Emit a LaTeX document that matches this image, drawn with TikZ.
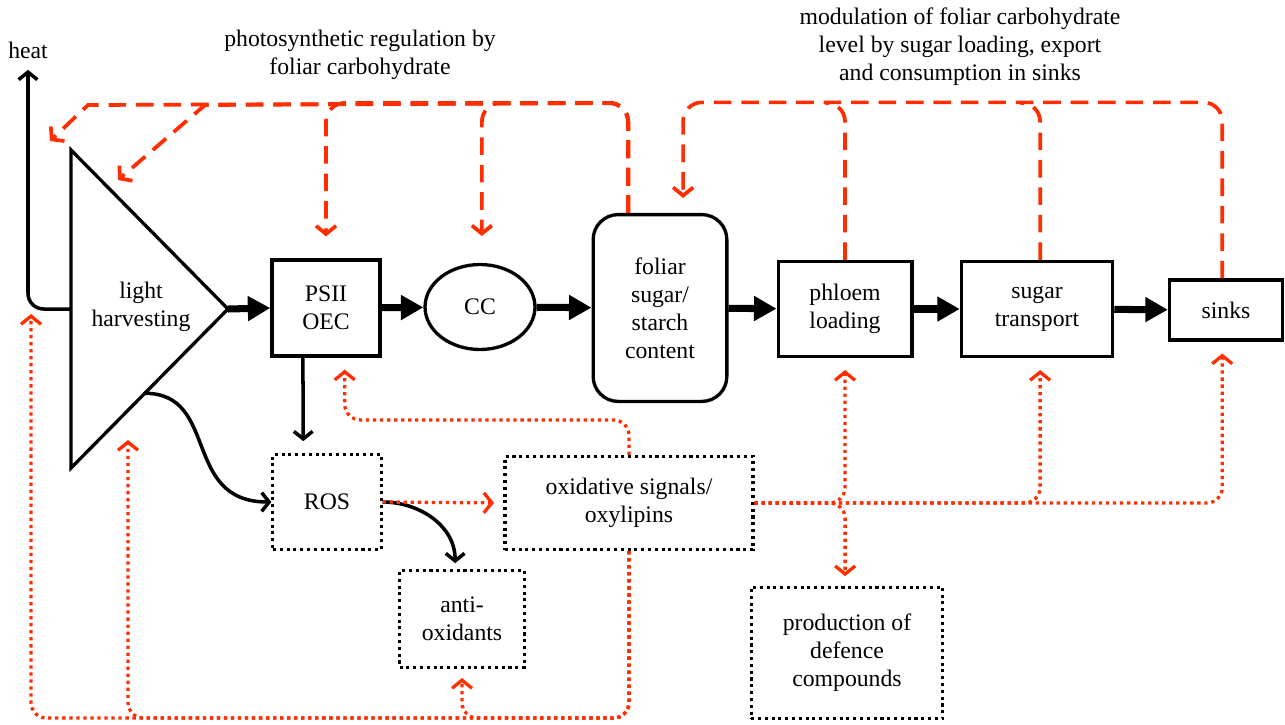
\documentclass[tikz,border=0pt]{standalone}
\usepackage{fontspec}
\setmainfont{Liberation Serif}
\usetikzlibrary{arrows.meta,shapes.geometric,calc}
\definecolor{fbred}{RGB}{255,45,0}

\begin{document}
\begin{tikzpicture}[x=0.016cm, y=-0.016cm, font=\fontsize{10.8}{12.8}\selectfont,
    box/.style={draw, line width=1.5pt, align=center, inner sep=1pt},
    dotbox/.style={draw, line width=1.4pt, dash pattern=on 1.4pt off 1.7pt, align=center, inner sep=1pt},
    flow/.style={line width=3.2pt, -{Triangle[length=0.36cm,width=0.38cm]}},
    link/.style={line width=1.6pt, -{Straight Barb[length=0.12cm,width=0.3cm]}},
    fb/.style={draw=fbred, line width=1.7pt, dash pattern=on 8pt off 4.5pt},
    sig/.style={draw=fbred, line width=1.5pt, dash pattern=on 1.5pt off 1.7pt},
    redtip/.style={-{Straight Barb[length=0.13cm,width=0.32cm]}}]
            \useasboundingbox (0,0) rectangle (1285,724);
            \coordinate (lhtop) at (71,150);
            \coordinate (lhbot) at (71,468);
            \coordinate (lhtip) at (228,309);
            \coordinate (lhside) at ($(lhtop)!0.5!(lhbot)$);
            \coordinate (lhout) at ($(lhtip)!0.53!(lhbot)$);
            \coordinate (fbheat) at (31,314);
            \coordinate (fblh) at (128,440);
            \coordinate (hook1) at (50,141);
            \coordinate (hook2) at (118,180);
            \draw[line width=1.5pt] (lhtop) -- (lhtip) -- (lhbot) -- cycle;
            \node[align=center] (lh) at (141,307) {light\\harvesting};
            \node (heat) at (28,50) {heat};
            \node[align=center] (regtext) at (360,55) {photosynthetic regulation by\\foliar carbohydrate};
            \node[align=center] (modtext) at (960,47) {modulation of foliar carbohydrate\\level by sugar loading, export\\and consumption in sinks};
            \begin{scope}[every node/.style={box}]
                \node[minimum width=1.73cm, minimum height=1.54cm] (psii) at (326,308) {PSII\\OEC};
                \node[ellipse, minimum width=1.76cm, minimum height=1.36cm] (cc) at (480,307) {CC};
                \node[rounded corners=0.4cm, minimum width=2.14cm, minimum height=2.99cm] (foliar) at (660,308) {foliar\\sugar/\\starch\\content};
                \node[minimum width=2.14cm, minimum height=1.52cm] (phloem) at (845,309) {phloem\\loading};
                \node[minimum width=2.42cm, minimum height=1.52cm] (transport) at (1037,309) {sugar\\transport};
                \node[minimum width=1.81cm, minimum height=0.96cm] (sinks) at (1226,310) {sinks};
            \end{scope}
            \begin{scope}[every node/.style={dotbox}]
                \node[minimum width=1.73cm, minimum height=1.52cm] (ros) at (327,502) {ROS};
                \node[minimum width=3.97cm, minimum height=1.49cm] (oxid) at (629,503) {oxidative signals/\\oxylipins};
                \node[minimum width=2.0cm, minimum height=1.54cm] (anti) at (462,619) {anti-\\oxidants};
                \node[minimum width=3.07cm, minimum height=2.11cm] (defence) at (847,653) {production of\\defence\\compounds};
            \end{scope}
            \draw[flow] (lhtip) -- (psii.west);
            \draw[flow] (psii) -- (cc);
            \draw[flow] (cc) -- (foliar);
            \draw[flow] (foliar) -- (phloem);
            \draw[flow] (phloem) -- (transport);
            \draw[flow] (transport) -- (sinks);
            \draw[link, rounded corners=0.25cm] (lhside) -| ([yshift=-0.06cm]heat.south);
            \draw[link] ([xshift=-0.37cm]psii.south) -- ([xshift=-0.38cm,yshift=0.19cm]ros.north);
            \draw[link] (lhout) .. controls +(75,0) and +(-90,0) .. (ros.west);
            \draw[link] (ros.east) to[out=0, in=90] ([xshift=-0.11cm,yshift=0.1cm]anti.north);
            \draw[sig, redtip, shorten >=0.15cm] (ros.east) -- (oxid.west);
            \draw[sig, redtip, rounded corners=0.25cm] (oxid.north) -- ++(0,-35) -| ([xshift=0.3cm,yshift=-0.19cm]psii.south);
            \draw[sig, redtip, rounded corners=0.25cm] (oxid.east) -| ([yshift=-0.19cm]phloem.south);
            \draw[sig, redtip, rounded corners=0.25cm] (oxid.east) -| ([xshift=-0.03cm,yshift=0.15cm]defence.north);
            \draw[sig, redtip, rounded corners=0.25cm] (oxid.east) -| ([xshift=0.05cm,yshift=-0.19cm]transport.south);
            \draw[sig, redtip, rounded corners=0.25cm] (oxid.east) -| ([xshift=-0.06cm,yshift=-0.19cm]sinks.south);
            \draw[sig, redtip, rounded corners=0.25cm] (oxid.south) -- ++(0,167) -| (fbheat);
            \draw[sig, redtip, rounded corners=0.25cm] (oxid.south) -- ++(0,167) -| (fblh);
            \draw[sig, redtip, rounded corners=0.25cm] (oxid.south) -- ++(0,167) -| ([yshift=-0.15cm]anti.south);
            \draw[fb, redtip] ([xshift=-0.51cm]foliar.north) [rounded corners=0.3cm] -- ++(0,-110) [sharp corners] -- ($(hook1)+(38,-36)$) -- (hook1);
            \draw[fb, redtip] ([xshift=-0.51cm]foliar.north) [rounded corners=0.3cm] -- ++(0,-110) [sharp corners] -- ($(hook2)+(87,-75)$) -- (hook2);
            \draw[fb, redtip, rounded corners=0.3cm] ([xshift=-0.51cm]foliar.north) -- ++(0,-110) -| ([yshift=0.35cm]psii.north);
            \draw[fb, redtip, rounded corners=0.3cm] ([xshift=-0.51cm]foliar.north) -- ++(0,-110) -| ([xshift=0.03cm,yshift=0.43cm]cc.north);
            \draw[fb, redtip, rounded corners=0.3cm] ([xshift=-0.06cm]sinks.north) -- ++(0,-176) -| ([xshift=0.37cm,yshift=0.24cm]foliar.north);
            \draw[fb, rounded corners=0.3cm] (phloem.north) -- ++(0,-157) -- ++(-20,0);
            \draw[fb, rounded corners=0.3cm] ([xshift=0.05cm]transport.north) -- ++(0,-157) -- ++(-20,0);
        \end{tikzpicture}
\end{document}
